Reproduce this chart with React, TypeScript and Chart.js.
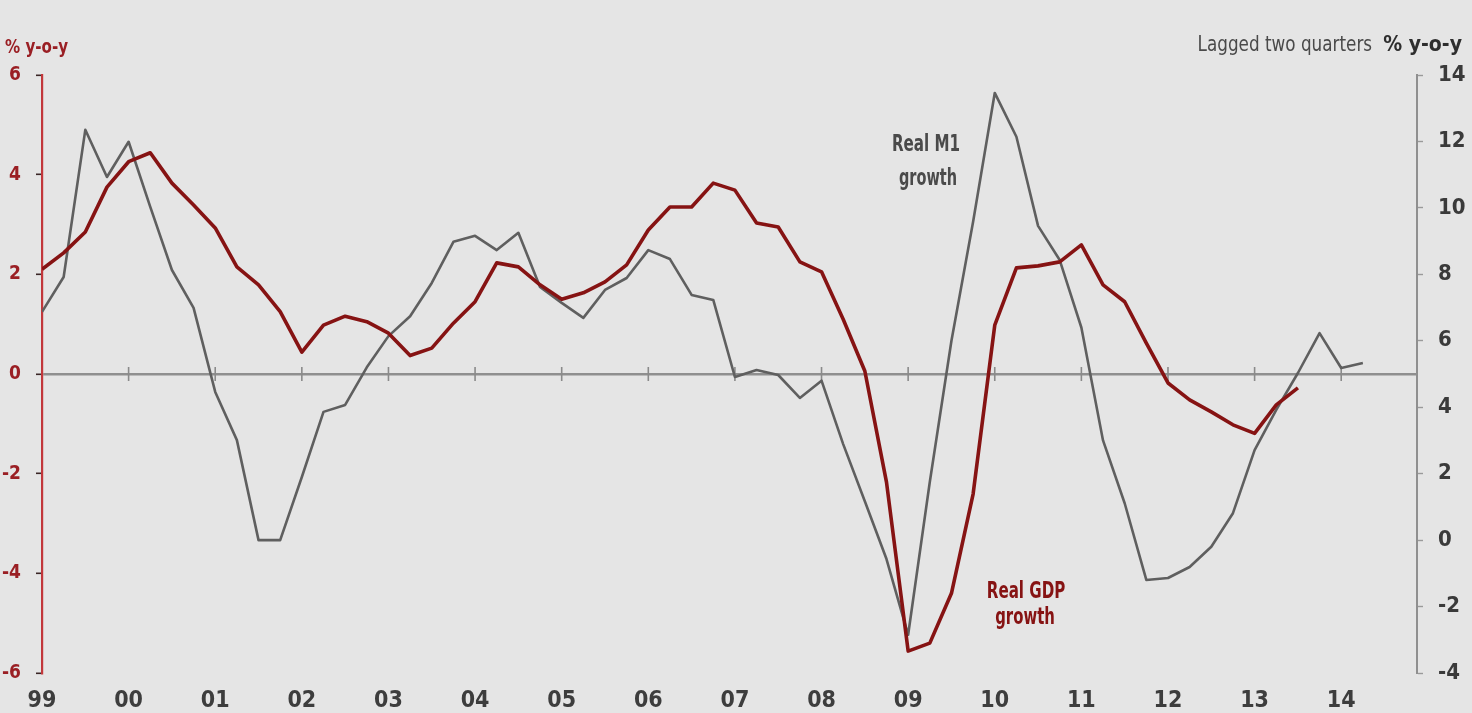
import { useEffect, useRef } from 'react';
import { Chart, registerables } from 'chart.js';

Chart.register(...registerables);

// X-axis year labels (one per year, quarterly data, first quarter of 1999 = index 0)
const yearLabels = ['99', '00', '01', '02', '03', '04', '05', '06', '07', '08', '09', '10', '11', '12', '13', '14'];

// Real GDP growth, % y-o-y (left axis), quarterly from 1999Q1
const gdpGrowth = [
  2.1, 2.43, 2.85, 3.75, 4.26, 4.44, 3.83, 3.39, 2.93, 2.15, 1.79, 1.25,
  0.44, 0.98, 1.16, 1.05, 0.82, 0.37, 0.52, 1.02, 1.45, 2.23, 2.15, 1.79,
  1.5, 1.63, 1.85, 2.19, 2.89, 3.35, 3.35, 3.83, 3.69, 3.03, 2.95, 2.25,
  2.05, 1.1, 0.06, -2.17, -5.56, -5.4, -4.4, -2.41, 0.98, 2.13, 2.17, 2.25,
  2.59, 1.79, 1.45, 0.62, -0.18, -0.52, -0.76, -1.02, -1.19, -0.62, -0.28,
];

// Real M1 growth, % y-o-y, lagged two quarters (right axis), quarterly from 1999Q1
const m1Growth = [
  6.87, 7.92, 12.35, 10.93, 11.99, 10.03, 8.13, 6.99, 4.46, 3.01, 0.0, 0.0,
  1.9, 3.86, 4.07, 5.2, 6.14, 6.74, 7.74, 8.98, 9.16, 8.73, 9.25, 7.62,
  7.14, 6.69, 7.53, 7.89, 8.73, 8.46, 7.38, 7.23, 4.91, 5.12, 4.97, 4.28,
  4.8, 2.89, 1.17, -0.57, -2.85, 1.75, 6.0, 9.58, 13.46, 12.14, 9.46, 8.43,
  6.4, 3.0, 1.11, -1.2, -1.14, -0.81, -0.2, 0.81, 2.71, 3.92, 5.03, 6.23,
  5.18, 5.33,
];

const leftTicks = { min: -6, max: 6, step: 2 };
const rightTicks = { min: -4, max: 14, step: 2 };
const quartersPerYear = 4;
const xMax = 63.5;

const FONT = "'DejaVu Sans Condensed', 'DejaVu Sans', sans-serif";
const RED_TEXT = '#9a1f24';
const RED_AXIS = '#c2373b';
const GDP_COLOR = '#861313';
const M1_COLOR = '#5f5f5f';
const GREY_TEXT = '#4a4a4a';
const BG = '#e5e5e5';

export default function App() {
  const canvasRef = useRef<HTMLCanvasElement | null>(null);

  useEffect(() => {
    const canvas = canvasRef.current;
    if (!canvas) return;

    const gdpData = gdpGrowth.map((v, i) => ({ x: i, y: v }));
    const m1Data = m1Growth.map((v, i) => ({ x: i, y: v }));
    const yearMarks = yearLabels.slice(1).map((_, k) => ({ x: (k + 1) * quartersPerYear, y: 0 }));

    const chart = new Chart(canvas, {
      type: 'line',
      data: {
        datasets: [
          {
            label: 'Real GDP growth',
            data: gdpData,
            yAxisID: 'y',
            borderColor: GDP_COLOR,
            borderWidth: 3.6,
            pointRadius: 0,
            tension: 0,
            borderJoinStyle: 'round',
          },
          {
            label: 'Real M1 growth',
            data: m1Data,
            yAxisID: 'y1',
            borderColor: M1_COLOR,
            borderWidth: 2.6,
            pointRadius: 0,
            tension: 0,
            borderJoinStyle: 'round',
          },
          {
            label: 'year marks',
            data: yearMarks,
            yAxisID: 'y',
            showLine: false,
            pointStyle: 'line',
            rotation: 90,
            pointRadius: 7,
            pointBorderWidth: 1.6,
            pointBorderColor: '#8a8a8a',
            borderColor: '#8a8a8a',
            pointHoverRadius: 0,
          },
        ],
      },
      options: {
        responsive: false,
        animation: false,
        events: [],
        layout: { padding: { top: 75, left: 0, right: 0, bottom: 0 } },
        plugins: {
          legend: { display: false },
          tooltip: { enabled: false },
          title: { display: false },
        },
        scales: {
          x: {
            type: 'linear',
            min: 0,
            max: xMax,
            grid: { display: false },
            border: { display: false },
            ticks: {
              color: '#3d3d3d',
              font: { family: FONT, size: 23, weight: 'bold' },
              padding: 6,
              maxRotation: 0,
              autoSkip: false,
              callback: (value: any) => yearLabels[Math.round(Number(value) / quartersPerYear)] ?? '',
            },
            afterBuildTicks: (scale: any) => {
              scale.ticks = yearLabels.map((_, k) => ({ value: k * quartersPerYear }));
            },
            afterFit: (scale: any) => {
              scale.height = 40;
            },
          },
          y: {
            type: 'linear',
            position: 'left',
            min: leftTicks.min,
            max: leftTicks.max,
            ticks: {
              stepSize: leftTicks.step,
              color: RED_TEXT,
              font: { family: FONT, size: 19, weight: 'bold' },
              padding: 15,
            },
            border: { display: true, color: RED_AXIS, width: 2.2 },
            grid: {
              drawOnChartArea: true,
              drawTicks: true,
              tickLength: 6,
              tickWidth: 1.6,
              tickColor: '#3a2626',
              lineWidth: 2.6,
              color: (c: any) => (c.tick && c.tick.value === 0 ? '#8f8f8f' : 'rgba(0,0,0,0)'),
            },
            afterFit: (scale: any) => {
              scale.width = 42;
            },
          },
          y1: {
            type: 'linear',
            position: 'right',
            min: rightTicks.min,
            max: rightTicks.max,
            ticks: {
              stepSize: rightTicks.step,
              color: '#3a3a3a',
              font: { family: FONT, size: 22, weight: 'bold' },
              padding: 15,
            },
            border: { display: true, color: '#8f8f8f', width: 2 },
            grid: {
              drawOnChartArea: false,
              drawTicks: true,
              tickLength: 6,
              tickWidth: 1.4,
              tickColor: '#9a9a9a',
            },
            afterFit: (scale: any) => {
              scale.width = 55;
            },
          },
        },
      },
    });

    return () => {
      chart.destroy();
    };
  }, []);

  const textBase: any = {
    position: 'absolute',
    fontFamily: FONT,
    whiteSpace: 'nowrap',
    lineHeight: 1,
  };

  const centered = (x: number, y: number, sx: number): any => ({
    ...textBase,
    left: x,
    top: y,
    transform: `translate(-50%, -50%) scaleX(${sx})`,
  });

  return (
    <div
      style={{
        position: 'fixed',
        left: 0,
        top: 0,
        width: 1472,
        height: 713,
        background: BG,
        overflow: 'hidden',
      }}
    >
      <canvas ref={canvasRef} width={1472} height={713} style={{ position: 'absolute', left: 0, top: 0 }} />
      <div
        style={{
          ...textBase,
          left: 5,
          top: 36,
          fontSize: 20,
          fontWeight: 'bold',
          color: RED_TEXT,
          transform: 'scaleX(0.84)',
          transformOrigin: 'left center',
        }}
      >
        % y-o-y
      </div>
      <div
        style={{
          ...textBase,
          right: 100,
          top: 34,
          fontSize: 21,
          color: GREY_TEXT,
          transform: 'scaleX(0.89)',
          transformOrigin: 'right center',
        }}
      >
        Lagged two quarters
      </div>
      <div
        style={{
          ...textBase,
          right: 10,
          top: 34,
          fontSize: 21,
          fontWeight: 'bold',
          color: '#2e2e2e',
        }}
      >
        % y-o-y
      </div>
      <div style={{ ...centered(926, 143, 0.73), fontSize: 23, fontWeight: 'bold', color: GREY_TEXT }}>Real M1</div>
      <div style={{ ...centered(928, 177, 0.7), fontSize: 23, fontWeight: 'bold', color: GREY_TEXT }}>growth</div>
      <div style={{ ...centered(1026, 590, 0.73), fontSize: 23, fontWeight: 'bold', color: GDP_COLOR }}>Real GDP</div>
      <div style={{ ...centered(1025, 616, 0.72), fontSize: 23, fontWeight: 'bold', color: GDP_COLOR }}>growth</div>
    </div>
  );
}
